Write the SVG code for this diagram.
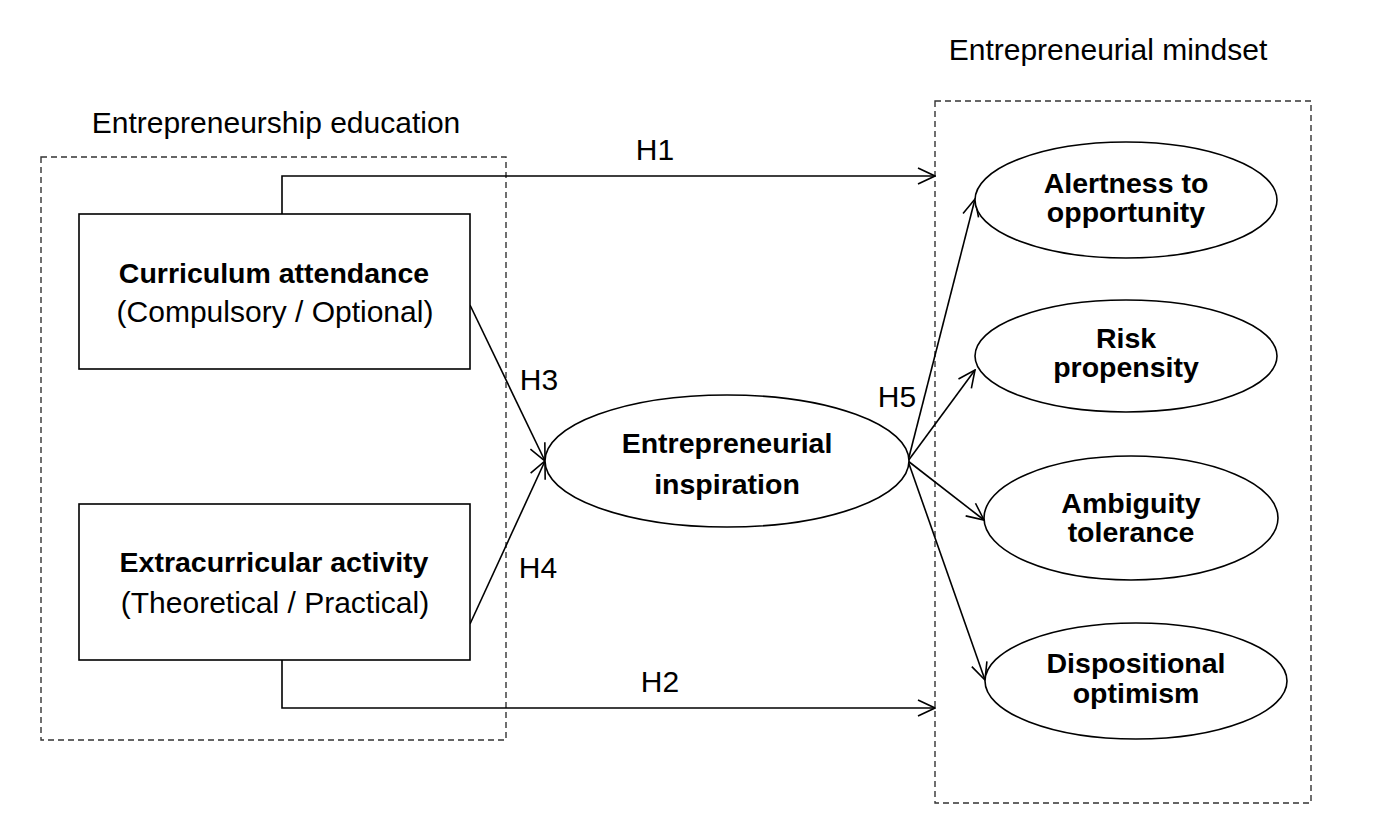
<svg xmlns="http://www.w3.org/2000/svg" width="1384" height="822" viewBox="0 0 1384 822">
<defs>
<marker id="arr" viewBox="0 0 20 20" refX="19" refY="10" markerWidth="20" markerHeight="20" markerUnits="userSpaceOnUse" orient="auto">
<path d="M2,2 L19,10 L2,18" fill="none" stroke="#000" stroke-width="1.6"/>
</marker>
<style>
text{font-family:"Liberation Sans",Arial,sans-serif;fill:#000;text-anchor:middle}
.t{font-size:30px}
.b{font-size:28.5px;font-weight:bold}
.r{font-size:30px}
.grp{fill:none;stroke:#333;stroke-width:1.4;stroke-dasharray:6,4}
.n{fill:#fff;stroke:#000;stroke-width:1.6}
.c{fill:none;stroke:#000;stroke-width:1.6}
</style>
</defs>
<rect fill="#fff" width="1384" height="822"/>
<g id="group-education">
<rect class="grp" x="41" y="157" width="465" height="583"/>
<text class="t" x="276" y="133">Entrepreneurship education</text>
</g>
<g id="group-mindset">
<rect class="grp" x="935" y="101" width="376" height="702"/>
<text class="t" x="1108" y="60">Entrepreneurial mindset</text>
</g>
<g id="connectors">
<path class="c" d="M282,214 V176 H935" marker-end="url(#arr)"/>
<path class="c" d="M282,660 V708 H935" marker-end="url(#arr)"/>
<path class="c" d="M470,305 L545,461" marker-end="url(#arr)"/>
<path class="c" d="M470,624 L545,461" marker-end="url(#arr)"/>
<path class="c" d="M908,461 L975,199" marker-end="url(#arr)"/>
<path class="c" d="M908,461 L975,370" marker-end="url(#arr)"/>
<path class="c" d="M908,461 L984,520" marker-end="url(#arr)"/>
<path class="c" d="M908,461 L985,680" marker-end="url(#arr)"/>
<text class="t" x="655" y="160">H1</text>
<text class="t" x="660" y="692">H2</text>
<text class="t" x="539" y="390">H3</text>
<text class="t" x="538" y="578">H4</text>
<text class="t" x="897" y="407">H5</text>
</g>
<g id="curriculum">
<rect class="n" x="79" y="214" width="391" height="155"/>
<text class="b" x="274" y="283">Curriculum attendance</text>
<text class="r" x="275" y="322">(Compulsory / Optional)</text>
</g>
<g id="extracurricular">
<rect class="n" x="79" y="504" width="391" height="156"/>
<text class="b" x="274" y="572">Extracurricular activity</text>
<text class="r" x="275" y="613">(Theoretical / Practical)</text>
</g>
<g id="inspiration">
<ellipse class="n" cx="727" cy="461" rx="182" ry="66"/>
<text class="b" x="727" y="453">Entrepreneurial</text>
<text class="b" x="727" y="494">inspiration</text>
</g>
<g id="alertness">
<ellipse class="n" cx="1126" cy="200" rx="151" ry="58"/>
<text class="b" x="1126" y="193">Alertness to</text>
<text class="b" x="1126" y="222">opportunity</text>
</g>
<g id="risk">
<ellipse class="n" cx="1126" cy="356" rx="151" ry="56"/>
<text class="b" x="1126" y="348">Risk</text>
<text class="b" x="1126" y="377">propensity</text>
</g>
<g id="ambiguity">
<ellipse class="n" cx="1131" cy="518" rx="147" ry="62"/>
<text class="b" x="1131" y="513">Ambiguity</text>
<text class="b" x="1131" y="542">tolerance</text>
</g>
<g id="dispositional">
<ellipse class="n" cx="1136" cy="681" rx="151" ry="58"/>
<text class="b" x="1136" y="673">Dispositional</text>
<text class="b" x="1136" y="703">optimism</text>
</g>
</svg>
